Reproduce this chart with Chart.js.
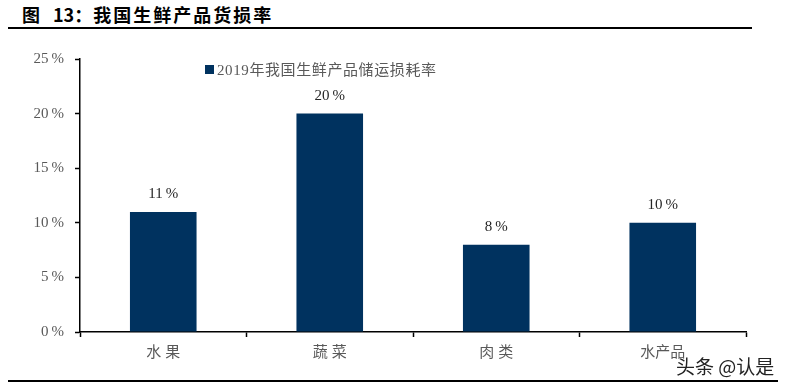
<!DOCTYPE html>
<html>
<head>
<meta charset="utf-8">
<script src="https://cdn.jsdelivr.net/npm/chart.js@4/dist/chart.umd.min.js"></script>
<style>
  html, body { margin: 0; padding: 0; background: #fff; }
  .page { position: relative; width: 790px; height: 388px; overflow: hidden; }
  .fig-title {
    position: absolute; left: 22px; top: 1px; white-space: nowrap;
    font: bold 18px "Noto Sans CJK SC", sans-serif; color: #000;
  }
  .fig-title .num { margin-left: 13px; margin-right: 1px; }
  .fig-title .txt { letter-spacing: 2px; }
  .rule { position: absolute; left: 8px; height: 2px; background: #000; }
  .legend {
    position: absolute; left: 205px; top: 58px; white-space: nowrap;
    font: 15px "Liberation Serif", "Noto Sans CJK SC", serif; color: #595959; letter-spacing: 0.6px;
  }
  .legend i {
    display: inline-block; width: 9px; height: 9px; background: #00325f;
    margin-right: 3px; vertical-align: 1px;
  }
  .mark {
    position: absolute; left: 676px; top: 352px;
    font: 19px "Noto Sans CJK SC", sans-serif; color: #222;
    text-shadow: 0 0 2px #fff, 0 0 2px #fff;
  }
  #chartWrap { position: absolute; left: 0; top: 0; width: 790px; height: 388px; }
</style>
</head>
<body>
<div class="page">
  <div class="fig-title">图<span class="num">13：</span><span class="txt">我国生鲜产品货损率</span></div>
  <div class="rule" style="top:27px; width:744px;"></div>
  <div id="chartWrap"><canvas id="lossChart"></canvas></div>
  <div class="legend"><i></i>2019年我国生鲜产品储运损耗率</div>
  <div class="rule" style="top:380px; width:770px;"></div>
  <div class="mark">头条 @认是</div>
</div>

<script>
const categories = ["水 果", "蔬 菜", "肉 类", "水产品"];
const lossRates = [11, 20, 8, 10];
const yTicks = [0, 5, 10, 15, 20, 25];

const serifFont = "'Liberation Serif', 'Noto Sans CJK SC', serif";

// Draws the value label above each bar, using the bar element positions.
const barLabels = {
  id: "barLabels",
  afterDatasetsDraw(chart) {
    const ctx = chart.ctx;
    const meta = chart.getDatasetMeta(0);
    ctx.save();
    ctx.font = "15px " + serifFont;
    ctx.fillStyle = "#262626";
    ctx.textAlign = "center";
    ctx.textBaseline = "bottom";
    meta.data.forEach((bar, i) => {
      ctx.fillText(lossRates[i] + "\u2009%", bar.x, bar.y - 10);
    });
    ctx.restore();
  }
};

new Chart(document.getElementById("lossChart"), {
  type: "bar",
  data: {
    labels: categories,
    datasets: [
      {
        label: "2019年我国生鲜产品储运损耗率",
        data: lossRates,
        backgroundColor: "#00325f",
        categoryPercentage: 1,
        barPercentage: 0.4
      }
    ]
  },
  options: {
    responsive: true,
    maintainAspectRatio: false,
    animation: false,
    layout: { padding: { top: 59, right: 44, bottom: 26, left: 0 } },
    plugins: {
      legend: { display: false },
      tooltip: { enabled: false }
    },
    scales: {
      x: {
        afterFit: (scale) => { scale.height = 30; },
        grid: { drawOnChartArea: false, offset: true, tickLength: 5, tickColor: "#000", tickWidth: 1.5 },
        border: { color: "#000", width: 1.5 },
        ticks: { color: "#595959", font: { family: serifFont, size: 15 }, padding: 7 }
      },
      y: {
        min: 0,
        max: 25,
        afterFit: (scale) => { scale.width = 80; },
        afterBuildTicks: (scale) => { scale.ticks = yTicks.map((v) => ({ value: v })); },
        grid: { drawOnChartArea: false, tickLength: 5, tickColor: "#000", tickWidth: 1.5 },
        border: { color: "#000", width: 1.5 },
        ticks: {
          color: "#595959",
          font: { family: serifFont, size: 15 },
          padding: 11,
          callback: (v) => v + "\u2009%"
        }
      }
    }
  },
  plugins: [barLabels]
});
</script>
</body>
</html>
